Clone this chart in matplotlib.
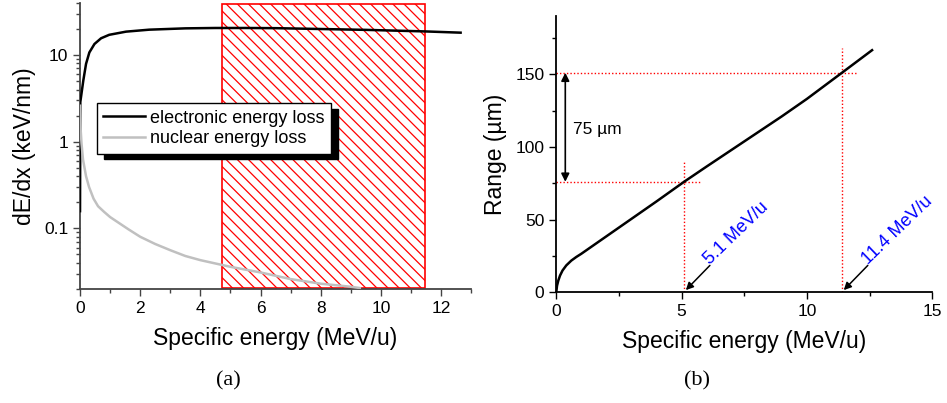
import numpy as np
import matplotlib.pyplot as plt
import matplotlib.ticker as mtick
from matplotlib.patches import Rectangle

plt.rcParams['font.family'] = ['Liberation Sans', 'DejaVu Sans']
plt.rcParams['hatch.linewidth'] = 0.9
plt.rcParams['hatch.color'] = 'red'

# stopping power (keV/nm) vs specific energy (MeV/u)
e_elec = [0.0, 0.01, 0.11, 0.2, 0.31, 0.48, 0.7, 0.97, 1.53, 2.3, 3.5, 4.5, 5.5, 6.5,
          7.5, 8.5, 9.5, 10.5, 11.5, 12.65]
dedx_elec = [0.158, 2.87, 5.1, 7.9, 10.7, 13.4, 15.6, 17.1, 18.6, 19.6, 20.3, 20.5, 20.5, 20.4,
             20.1, 19.8, 19.5, 19.1, 18.7, 18.1]
e_nucl = [0.0, 0.02, 0.05, 0.1, 0.2, 0.3, 0.45, 0.6, 0.8, 1.0, 1.3, 1.6, 2.0, 2.5, 3.0,
          3.5, 4.0, 5.0, 6.0, 7.0, 8.0, 9.0, 9.3]
dedx_nucl = [2.6, 1.4, 0.95, 0.62, 0.40, 0.30, 0.22, 0.18, 0.155, 0.135, 0.115, 0.098, 0.08,
             0.066, 0.056, 0.048, 0.043, 0.036, 0.031, 0.026, 0.023, 0.0212, 0.0205]
window = (4.72, 11.46)

# range (um) vs specific energy (MeV/u)
e_range = [0.0, 0.03, 0.08, 0.15, 0.25, 0.4, 0.6, 0.8, 1.0, 1.5, 2.0, 3.0, 4.0, 5.1, 6.0,
           7.0, 8.0, 9.0, 10.0, 11.4, 12.6]
rng = [0.0, 4.5, 8.0, 11.5, 15.0, 18.5, 21.8, 24.3, 26.5, 32.5, 38.5, 50.5, 62.5, 76.0, 86.5,
       98.0, 109.5, 121.0, 133.0, 151.0, 166.5]
e_lo, r_lo = 5.1, 76.0
e_hi, r_hi = 11.4, 151.0

fig = plt.figure(figsize=(9.47, 4.03), dpi=100)

# %% (a) energy loss
ax1 = fig.add_axes([0.0845, 0.283, 0.413, 0.710])
ax1.add_patch(Rectangle((window[0], 0.0205), window[1] - window[0], 39.0,
                        facecolor='none', edgecolor='red', hatch='\\\\\\', lw=1.2, zorder=1))
ax1.plot(e_elec, dedx_elec, color='black', lw=1.8, label='electronic energy loss', zorder=3)
ax1.plot(e_nucl, dedx_nucl, color='#c0c0c0', lw=1.8, label='nuclear energy loss', zorder=4)
ax1.set_yscale('log')
ax1.set_xlim(0, 13)
ax1.set_ylim(0.02, 40)
ax1.set_yticks([0.1, 1, 10])
ax1.set_yticklabels(['0.1', '1', '10'])
ax1.yaxis.set_minor_locator(mtick.LogLocator(base=10, subs=np.arange(2, 10)))
ax1.yaxis.set_minor_formatter(mtick.NullFormatter())
ax1.xaxis.set_major_locator(mtick.MultipleLocator(2))
ax1.xaxis.set_minor_locator(mtick.MultipleLocator(1))
ax1.set_xlabel('Specific energy (MeV/u)', fontsize=16.5, labelpad=8)
ax1.set_ylabel('dE/dx (keV/nm)', fontsize=16.5, labelpad=6)
leg = ax1.legend(loc='upper left', bbox_to_anchor=(0.043, 0.649), fontsize=13,
                 fancybox=False, edgecolor='black', framealpha=1, borderpad=0.35,
                 borderaxespad=0, handlelength=2.3, handletextpad=0.3, labelspacing=0.2,
                 shadow={'ox': 5, 'oy': -4, 'color': 'black', 'alpha': 1})
leg.get_frame().set_linewidth(1.0)
leg.set_zorder(5)

# %% (b) range
ax2 = fig.add_axes([0.5874, 0.2747, 0.397, 0.6856])
ax2.plot(e_range, rng, color='black', lw=1.8, zorder=3)
dots = dict(color='red', ls=(0, (1, 1.5)), lw=1.0)
ax2.plot([0, 12.0], [r_hi, r_hi], **dots)
ax2.plot([0, 5.73], [r_lo, r_lo], **dots)
ax2.plot([e_lo, e_lo], [0, 90], **dots)
ax2.plot([e_hi, e_hi], [0, 168], **dots)
ax2.annotate('', xy=(0.36, r_lo), xytext=(0.36, r_hi),
             arrowprops=dict(arrowstyle='<|-|>', color='black', lw=1.2, mutation_scale=12,
                             shrinkA=0, shrinkB=0))
ax2.text(0.65, 112, '%d µm' % (r_hi - r_lo), fontsize=12.5, va='center', ha='left')
for e0, lab in [(e_lo, '5.1 MeV/u'), (e_hi, '11.4 MeV/u')]:
    ax2.annotate('', xy=(e0 + 0.07, 1.5), xytext=(e0 + 1.03, 18.5),
                 arrowprops=dict(arrowstyle='-|>', color='black', lw=1.1, mutation_scale=11,
                                 shrinkA=0, shrinkB=0))
    ax2.text(e0 + 1.15, 17.0, lab, color='blue', fontsize=13, rotation=44,
             rotation_mode='anchor', ha='left', va='bottom')
ax2.set_xlim(0, 15)
ax2.set_ylim(0, 190)
ax2.xaxis.set_major_locator(mtick.MultipleLocator(5))
ax2.xaxis.set_minor_locator(mtick.MultipleLocator(2.5))
ax2.yaxis.set_major_locator(mtick.FixedLocator([0, 50, 100, 150]))
ax2.yaxis.set_minor_locator(mtick.FixedLocator([25, 75, 125, 175]))
ax2.set_xlabel('Specific energy (MeV/u)', fontsize=16.5, labelpad=8)
ax2.set_ylabel('Range (µm)', fontsize=16.5, labelpad=6)

for ax, sc in [(ax1, '#444444'), (ax2, 'black')]:
    for s in ['top', 'right']:
        ax.spines[s].set_visible(False)
    for s in ['left', 'bottom']:
        ax.spines[s].set_color(sc)
        ax.spines[s].set_linewidth(1.3)
    ax.tick_params(which='major', direction='out', length=5, width=1.0, labelsize=12.5, colors=sc,
                   labelcolor='black')
    ax.tick_params(which='minor', direction='out', length=3, width=1.0, colors=sc)

fig.text(0.241, 0.055, '(a)', fontsize=16, family='Liberation Serif', ha='center', va='center')
fig.text(0.736, 0.055, '(b)', fontsize=16, family='Liberation Serif', ha='center', va='center')

fig.savefig('out.png', dpi=100)
